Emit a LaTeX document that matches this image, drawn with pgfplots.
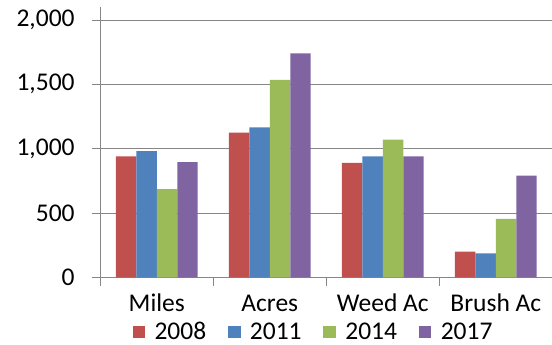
\documentclass[border=0pt]{standalone}
\usepackage{fontspec}
\setmainfont{Carlito}
\usepackage{pgfplots}
\pgfplotsset{compat=1.18}
\definecolor{c2008}{HTML}{C0504D}
\definecolor{c2011}{HTML}{4F81BD}
\definecolor{c2014}{HTML}{9BBB59}
\definecolor{c2017}{HTML}{8064A2}
\definecolor{gridc}{RGB}{134,134,134}
\begin{document}
\begin{tikzpicture}
\path[use as bounding box] (0,0) rectangle (552pt,345pt);
\begin{axis}[
  at={(100.3pt,67.7pt)}, anchor=south west,
  scale only axis, width=452pt, height=270.2pt,
  xmin=-0.5, xmax=3.5, ymin=0, ymax=2100,
  ybar=0pt, bar width=0.181,
  axis x line*=bottom, axis y line*=left,
  axis line style={gridc, line width=0.9pt, -},
  ymajorgrids=true,
  grid style={gridc, line width=0.9pt},
  ytick={0,500,1000,1500,2000},
  yticklabels={0,500,{1,000},{1,500},{2,000}},
  xtick={-0.5,0.5,1.5,2.5,3.5},
  xticklabels={},
  extra x ticks={0,1,2,3},
  extra x tick labels={Miles,Acres,Weed Ac,Brush Ac},
  extra x tick style={major tick length=0pt, grid=none,
    xticklabel style={anchor=base, inner sep=0pt, yshift=-34.4pt}},
  tick align=outside,
  major tick length=8.5pt,
  tick style={gridc, line width=0.9pt},
  yticklabel style={anchor=east, inner sep=0pt, xshift=-17pt},
  tick label style={font=\fontsize{25.5}{30}\selectfont, text=black},
  legend columns=4,
  legend style={at={(0.4695,-0.202)}, anchor=center, draw=none, fill=none,
    inner sep=0pt, font=\fontsize{25.5}{30}\selectfont,
    nodes={inner sep=0pt},
    /tikz/every odd column/.append style={column sep=9.4pt},
    /tikz/every even column/.append style={column sep=21.7pt}},
  legend image code/.code={\fill[#1] (0pt,-6.3pt) rectangle (12.6pt,6.3pt);},
]
\addplot[fill=c2008, draw=none] coordinates {(0,940) (1,1125) (2,890) (3,200)};
\addplot[fill=c2011, draw=none] coordinates {(0,980) (1,1165) (2,940) (3,185)};
\addplot[fill=c2014, draw=none] coordinates {(0,685) (1,1535) (2,1070) (3,455)};
\addplot[fill=c2017, draw=none] coordinates {(0,895) (1,1740) (2,940) (3,790)};
\legend{2008,2011,2014,2017}
\end{axis}
\end{tikzpicture}
\end{document}
